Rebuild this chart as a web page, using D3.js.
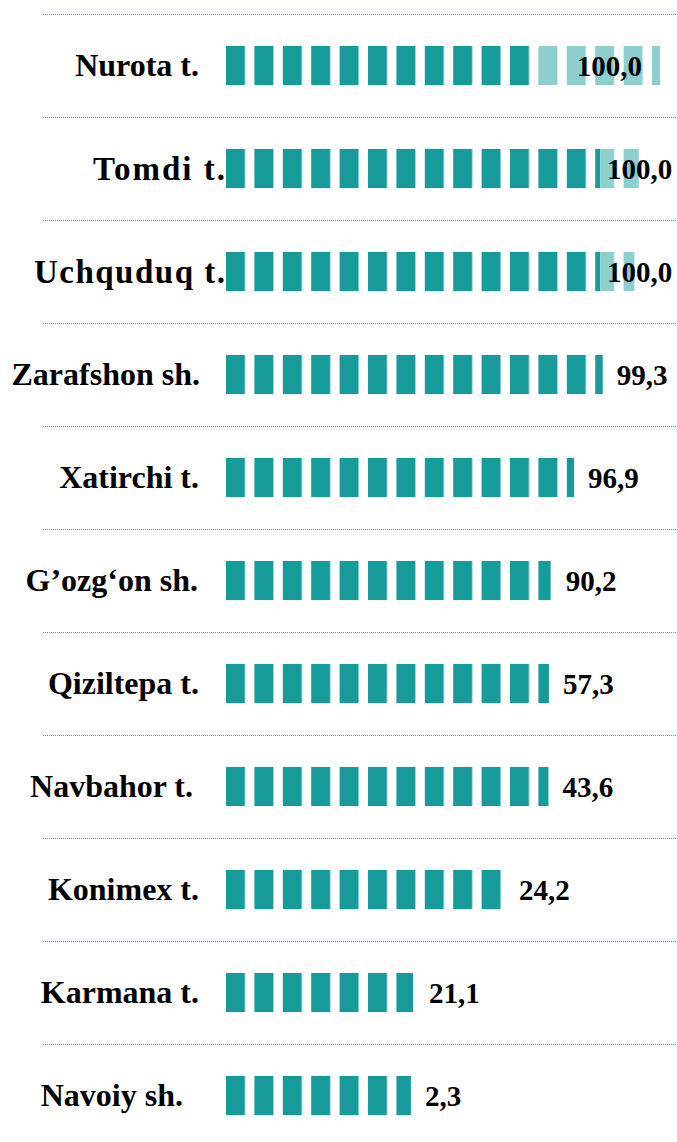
<!doctype html>
<html>
  <head>
    <meta charset="utf-8">
    <title>Segment bars</title>
    <script src="https://cdnjs.cloudflare.com/ajax/libs/d3/7.8.5/d3.min.js"></script>
    <style>
      body { margin: 0; background: #fff; }
      text { font-family: "Liberation Serif", "Times New Roman", serif; font-weight: bold; fill: #000; }
    </style>
  </head>
  <body>
    <div id="chart"></div>
    <script>
    // data
    const categories = ["Nurota t.", "Tomdi t.", "Uchquduq t.", "Zarafshon sh.", "Xatirchi t.",
      "G’ozg‘on sh.", "Qiziltepa t.", "Navbahor t.", "Konimex t.", "Karmana t.", "Navoiy sh."];
    const darkValues  = [70.7, 86.2, 86.2, 86.8, 80.2, 74.8, 74.4, 74.3, 63.6, 43.1, 42.6];
    const lightValues = [29.3, 8.9, 7.9, 0, 0, 0, 0, 0, 0, 0, 0];
    const valueLabels = ["100,0", "100,0", "100,0", "99,3", "96,9", "90,2", "57,3", "43,6", "24,2", "21,1", "2,3"];

    // little layout tweaks so labels sit like in the original
    const catShift   = [0, 26, 26, 1, 0, -1, 0, -6, 0, 0, -16];
    const catSpacing = [0, 2, 1.5, 0, 0, 0, 0, 0, 0, 0, 0];
    const valueShift = [30, -7, -7, 0, 0, 1, 0, 0, 3, 2, 0];

    const width = 677, height = 1142;
    const dark = "#179b9a", light = "#8dcfce", dotted = "#2ea8a8";
    const segStep = 28.4, segW = 19;

    const svg = d3.select("#chart").append("svg")
      .attr("width", width)
      .attr("height", height);

    const x = d3.scaleLinear().domain([0, 100]).range([226, 660]);
    const y = d3.scaleBand()
      .domain(categories)
      .range([14, 14 + categories.length * 103])
      .paddingInner(0.62)
      .paddingOuter(0.31);

    // striped fills make the segmented look
    const defs = svg.append("defs");
    [["segDark", dark], ["segLight", light]].forEach(([id, col]) => {
      const p = defs.append("pattern")
        .attr("id", id)
        .attr("patternUnits", "userSpaceOnUse")
        .attr("x", x(0)).attr("y", 0)
        .attr("width", segStep).attr("height", height);
      p.append("rect").attr("width", segW).attr("height", height).attr("fill", col);
    });

    const rows = categories.map((c, i) => ({
      cat: c, dark: darkValues[i], light: lightValues[i], label: valueLabels[i], i: i
    }));

    // dotted separators above each row
    svg.selectAll("line.sep")
      .data(rows)
      .join("line")
      .attr("class", "sep")
      .attr("x1", 43).attr("x2", width)
      .attr("y1", d => Math.round(y(d.cat) - y.step() * 0.31) + 0.5)
      .attr("y2", d => Math.round(y(d.cat) - y.step() * 0.31) + 0.5)
      .attr("stroke", dotted)
      .attr("stroke-width", 1)
      .attr("stroke-dasharray", "1 1");

    svg.selectAll("rect.dark")
      .data(rows)
      .join("rect")
      .attr("class", "dark")
      .attr("x", x(0))
      .attr("y", d => y(d.cat))
      .attr("width", d => x(d.dark) - x(0))
      .attr("height", y.bandwidth())
      .attr("fill", "url(#segDark)");

    svg.selectAll("rect.light")
      .data(rows.filter(d => d.light > 0))
      .join("rect")
      .attr("class", "light")
      .attr("x", d => x(d.dark))
      .attr("y", d => y(d.cat))
      .attr("width", d => x(d.dark + d.light) - x(d.dark))
      .attr("height", y.bandwidth())
      .attr("fill", "url(#segLight)");

    svg.selectAll("text.cat")
      .data(rows)
      .join("text")
      .attr("class", "cat")
      .attr("x", d => 199 + catShift[d.i] + catSpacing[d.i])
      .attr("y", d => y(d.cat) + y.bandwidth() / 2)
      .attr("dy", "0.34em")
      .attr("text-anchor", "end")
      .style("font-size", d => catSpacing[d.i] ? "33px" : "32px")
      .style("letter-spacing", d => catSpacing[d.i] + "px")
      .text(d => d.cat);

    svg.selectAll("text.val")
      .data(rows)
      .join("text")
      .attr("class", "val")
      .attr("x", d => x(d.dark) + 14 + valueShift[d.i])
      .attr("y", d => y(d.cat) + y.bandwidth() / 2)
      .attr("dy", "0.36em")
      .style("font-size", "29px")
      .text(d => d.label);
    </script>
  </body>
</html>
